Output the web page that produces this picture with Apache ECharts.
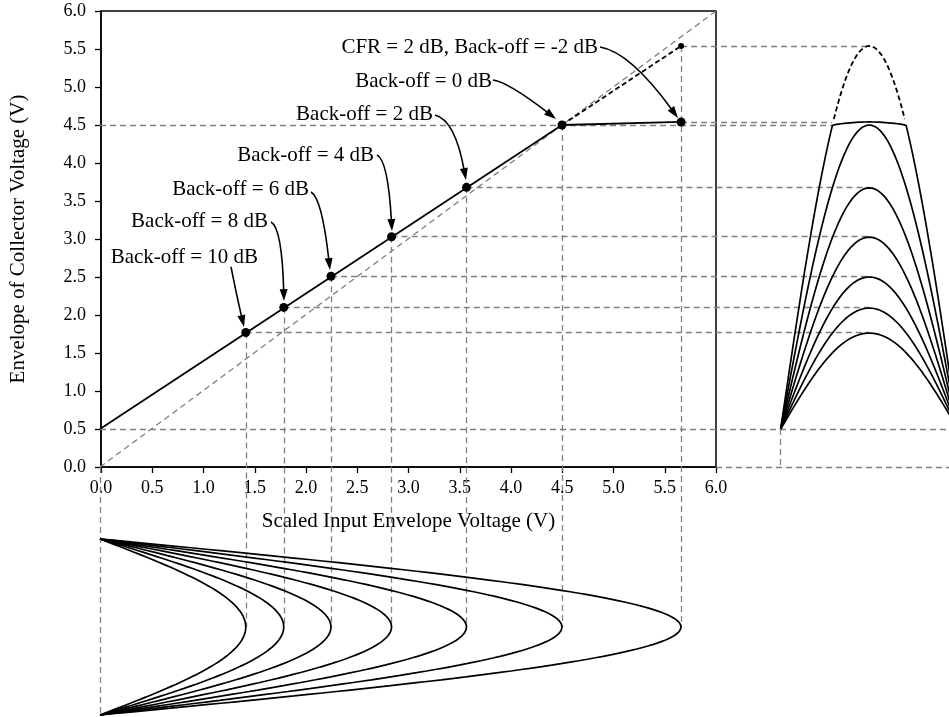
<!DOCTYPE html>
<html>
<head>
<meta charset="utf-8">
<script src="https://cdn.jsdelivr.net/npm/echarts@6/dist/echarts.min.js"></script>
<style>
html,body{margin:0;padding:0;background:#fff;}
#chart{width:949px;height:717px;}
</style>
</head>
<body>
<div id="chart"></div>
<script>
// ---------------- data ----------------
const backoffLabels = ['Back-off = 10 dB','Back-off = 8 dB','Back-off = 6 dB','Back-off = 4 dB','Back-off = 2 dB','Back-off = 0 dB','CFR = 2 dB, Back-off = -2 dB'];
const inputEnv     = [1.42, 1.79, 2.25, 2.84, 3.57, 4.50, 5.66];   // scaled input envelope peak (V)
const collectorEnv = [1.77, 2.10, 2.51, 3.03, 3.68, 4.50, 4.54];   // collector envelope peak (V)
const unclippedPeak = 5.54;                                         // -2 dB peak without clipping
const transferPts = [[0, 0.5], [4.5, 4.5], [5.66, 4.54]];          // transfer characteristic
const idealPts = [[0, 0], [6, 6]];                                  // unity reference
const tickLabels = ['0.0','0.5','1.0','1.5','2.0','2.5','3.0','3.5','4.0','4.5','5.0','5.5','6.0'];

// ---------------- layout (overlay coordinates, same scale as main axes) ----------------
const PX_X = 616 / 6, PX_Y = 456 / 6;
const OV_XMAX = 849 / PX_X, OV_YMIN = 6 - 706 / PX_Y;
const RIGHT_X0 = 6.63, RIGHT_W = 1.726, RIGHT_PEAK = RIGHT_X0 + RIGHT_W / 2;
const BOT_Y0 = -0.947, BOT_Y1 = -3.263, BOT_MID = (BOT_Y0 + BOT_Y1) / 2;
const CLIP_END_X = 7.13;
const N = 120;

// arrow geometry: [startX, startY, ctrlX, ctrlY, endX, endY] ; label anchor: right end, middle
const arrowGeom = [
  [1.276, 2.632, 1.334, 2.237, 1.403, 1.842],
  [1.666, 3.224, 1.773, 3.145, 1.792, 2.184],
  [2.055, 3.618, 2.162, 3.539, 2.240, 2.592],
  [2.698, 4.105, 2.805, 4.039, 2.844, 3.105],
  [3.263, 4.632, 3.458, 4.566, 3.565, 3.776],
  [3.828, 5.092, 3.974, 5.066, 4.442, 4.579],
  [4.870, 5.526, 5.162, 5.461, 5.630, 4.592]
];
const labelAnchor = [
  [1.539, 2.763], [1.636, 3.224], [2.036, 3.645], [2.669, 4.105],
  [3.243, 4.632], [3.818, 5.066], [4.851, 5.526]
];

function transfer(v) {
  for (let i = 1; i < transferPts.length; i++) {
    const a = transferPts[i - 1], b = transferPts[i];
    if (v <= b[0] || i === transferPts.length - 1) {
      return a[1] + (b[1] - a[1]) * (v - a[0]) / (b[0] - a[0]);
    }
  }
}

const FONT = '"Liberation Serif", "Times New Roman", serif';
const GREY = '#808080';
const series = [];

// dashed grey reference lines
const refSegs = [];
refSegs.push(idealPts);
inputEnv.forEach((x, i) => {
  const y = collectorEnv[i];
  if (i < 5) refSegs.push([[x, y], [RIGHT_PEAK, y]]);
  else if (i === 5) refSegs.push([[0, y], [CLIP_END_X, y]]);
  else refSegs.push([[x, y], [CLIP_END_X, y]]);
  const topY = i === 6 ? unclippedPeak : y;
  refSegs.push([[x, topY], [x, BOT_MID]]);
});
refSegs.push([[inputEnv[6], unclippedPeak], [RIGHT_PEAK, unclippedPeak]]);
refSegs.push([[0, transferPts[0][1]], [OV_XMAX, transferPts[0][1]]]);
refSegs.push([[6, 0], [OV_XMAX, 0]]);
refSegs.push([[RIGHT_X0, transferPts[0][1]], [RIGHT_X0, 0]]);
refSegs.push([[0, 0], [0, BOT_Y1]]);
series.push({
  type: 'lines', coordinateSystem: 'cartesian2d', xAxisIndex: 1, yAxisIndex: 1,
  symbol: ['none', 'none'], silent: true, z: 1,
  lineStyle: { color: GREY, width: 1.3, type: [6, 4], opacity: 1 },
  data: refSegs.map(c => ({ coords: c }))
});

// transfer characteristic
series.push({
  type: 'line', xAxisIndex: 1, yAxisIndex: 1, symbol: 'none', z: 3, clip: false,
  lineStyle: { color: '#000', width: 1.8 }, data: transferPts
});
// unclipped extension
series.push({
  type: 'line', xAxisIndex: 1, yAxisIndex: 1, symbol: 'none', z: 3, clip: false,
  lineStyle: { color: '#000', width: 1.8, type: [5, 3] },
  data: [[inputEnv[5], collectorEnv[5]], [inputEnv[6], unclippedPeak]]
});

// right panel: collector envelopes
inputEnv.forEach((v, i) => {
  const pts = [];
  for (let k = 0; k <= N; k++) {
    const t = k / N;
    pts.push([RIGHT_X0 + RIGHT_W * t, transfer(v * Math.sin(Math.PI * t))]);
  }
  series.push({
    type: 'line', xAxisIndex: 1, yAxisIndex: 1, symbol: 'none', z: 3, clip: false,
    lineStyle: { color: '#000', width: 1.7 }, data: pts
  });
});
// right panel: unclipped dashed top
(function () {
  const pts = [];
  const base = transferPts[0][1];
  for (let k = 0; k <= N; k++) {
    const t = k / N;
    const y = base + (unclippedPeak - base) * Math.sin(Math.PI * t);
    if (y >= collectorEnv[5]) pts.push([RIGHT_X0 + RIGHT_W * t, y]);
  }
  series.push({
    type: 'line', xAxisIndex: 1, yAxisIndex: 1, symbol: 'none', z: 3, clip: false,
    lineStyle: { color: '#000', width: 1.8, type: [5, 3] }, data: pts
  });
})();

// bottom panel: input envelopes
inputEnv.forEach((v) => {
  const pts = [];
  for (let k = 0; k <= N; k++) {
    const t = k / N;
    pts.push([v * Math.sin(Math.PI * t), BOT_Y0 + (BOT_Y1 - BOT_Y0) * t]);
  }
  series.push({
    type: 'line', xAxisIndex: 1, yAxisIndex: 1, symbol: 'none', z: 3, clip: false,
    lineStyle: { color: '#000', width: 1.7 }, data: pts
  });
});

// dots
series.push({
  type: 'scatter', xAxisIndex: 1, yAxisIndex: 1, z: 5, symbolSize: 9,
  itemStyle: { color: '#000', opacity: 1 },
  data: inputEnv.map((x, i) => [x, collectorEnv[i]])
});
series.push({
  type: 'scatter', xAxisIndex: 1, yAxisIndex: 1, z: 5, symbolSize: 6,
  itemStyle: { color: '#000', opacity: 1 },
  data: [[inputEnv[6], unclippedPeak]]
});

// arrows
series.push({
  type: 'custom', xAxisIndex: 1, yAxisIndex: 1, z: 6,
  data: arrowGeom,
  renderItem: function (params, api) {
    const s = api.coord([api.value(0), api.value(1)]);
    const c = api.coord([api.value(2), api.value(3)]);
    const e = api.coord([api.value(4), api.value(5)]);
    let dx = e[0] - c[0], dy = e[1] - c[1];
    const len = Math.sqrt(dx * dx + dy * dy) || 1;
    dx /= len; dy /= len;
    const L = 12, W = 8;
    const bx = e[0] - dx * L, by = e[1] - dy * L;
    const nx = -dy, ny = dx;
    const ce = [e[0] - dx * L * 0.8, e[1] - dy * L * 0.8];
    return {
      type: 'group',
      children: [
        { type: 'bezierCurve', shape: { x1: s[0], y1: s[1], cpx1: c[0], cpy1: c[1], x2: ce[0], y2: ce[1] },
          style: { stroke: '#000', lineWidth: 1.6, fill: null } },
        { type: 'polygon', shape: { points: [e, [bx + nx * W / 2, by + ny * W / 2], [bx - nx * W / 2, by - ny * W / 2]] },
          style: { fill: '#000', stroke: null } }
      ]
    };
  }
});

// labels
series.push({
  type: 'custom', xAxisIndex: 1, yAxisIndex: 1, z: 6,
  data: labelAnchor.map((p, i) => [p[0], p[1], i]),
  renderItem: function (params, api) {
    const p = api.coord([api.value(0), api.value(1)]);
    return {
      type: 'text', x: p[0], y: p[1],
      style: { text: backoffLabels[api.value(2)], font: '21px ' + FONT, fill: '#000', align: 'right', verticalAlign: 'middle' }
    };
  }
});

const axisCommon = {
  min: 0, max: 6, interval: 0.5,
  axisLine: { show: true, lineStyle: { color: '#000', width: 1.5 } },
  axisTick: { show: true, inside: false, length: 6, lineStyle: { color: '#000', width: 1.3 } },
  splitLine: { show: false },
  axisLabel: { color: '#000', fontFamily: FONT, fontSize: 18, formatter: (v) => tickLabels[Math.round(v * 2)] },
  nameTextStyle: { color: '#000', fontFamily: FONT, fontSize: 21 },
  nameLocation: 'middle'
};

const option = {
  animation: false,
  backgroundColor: '#fff',
  grid: [
    { left: 100, top: 11, width: 616, height: 456, show: true, borderColor: '#000', borderWidth: 1.5, backgroundColor: 'transparent' },
    { left: 100, top: 11, right: 0, bottom: 0, show: false }
  ],
  xAxis: [
    Object.assign({}, axisCommon, { gridIndex: 0, type: 'value', name: 'Scaled Input Envelope Voltage (V)', nameGap: 44,
      axisLabel: Object.assign({}, axisCommon.axisLabel, { margin: 12 }) }),
    { gridIndex: 1, type: 'value', min: 0, max: OV_XMAX, show: false }
  ],
  yAxis: [
    Object.assign({}, axisCommon, { gridIndex: 0, type: 'value', name: 'Envelope of Collector Voltage (V)', nameGap: 72,
      axisLabel: Object.assign({}, axisCommon.axisLabel, { margin: 15 }) }),
    { gridIndex: 1, type: 'value', min: OV_YMIN, max: 6, show: false }
  ],
  series: series
};

const chart = echarts.init(document.getElementById('chart'), null, { renderer: 'canvas' });
chart.setOption(option);
</script>
</body>
</html>
